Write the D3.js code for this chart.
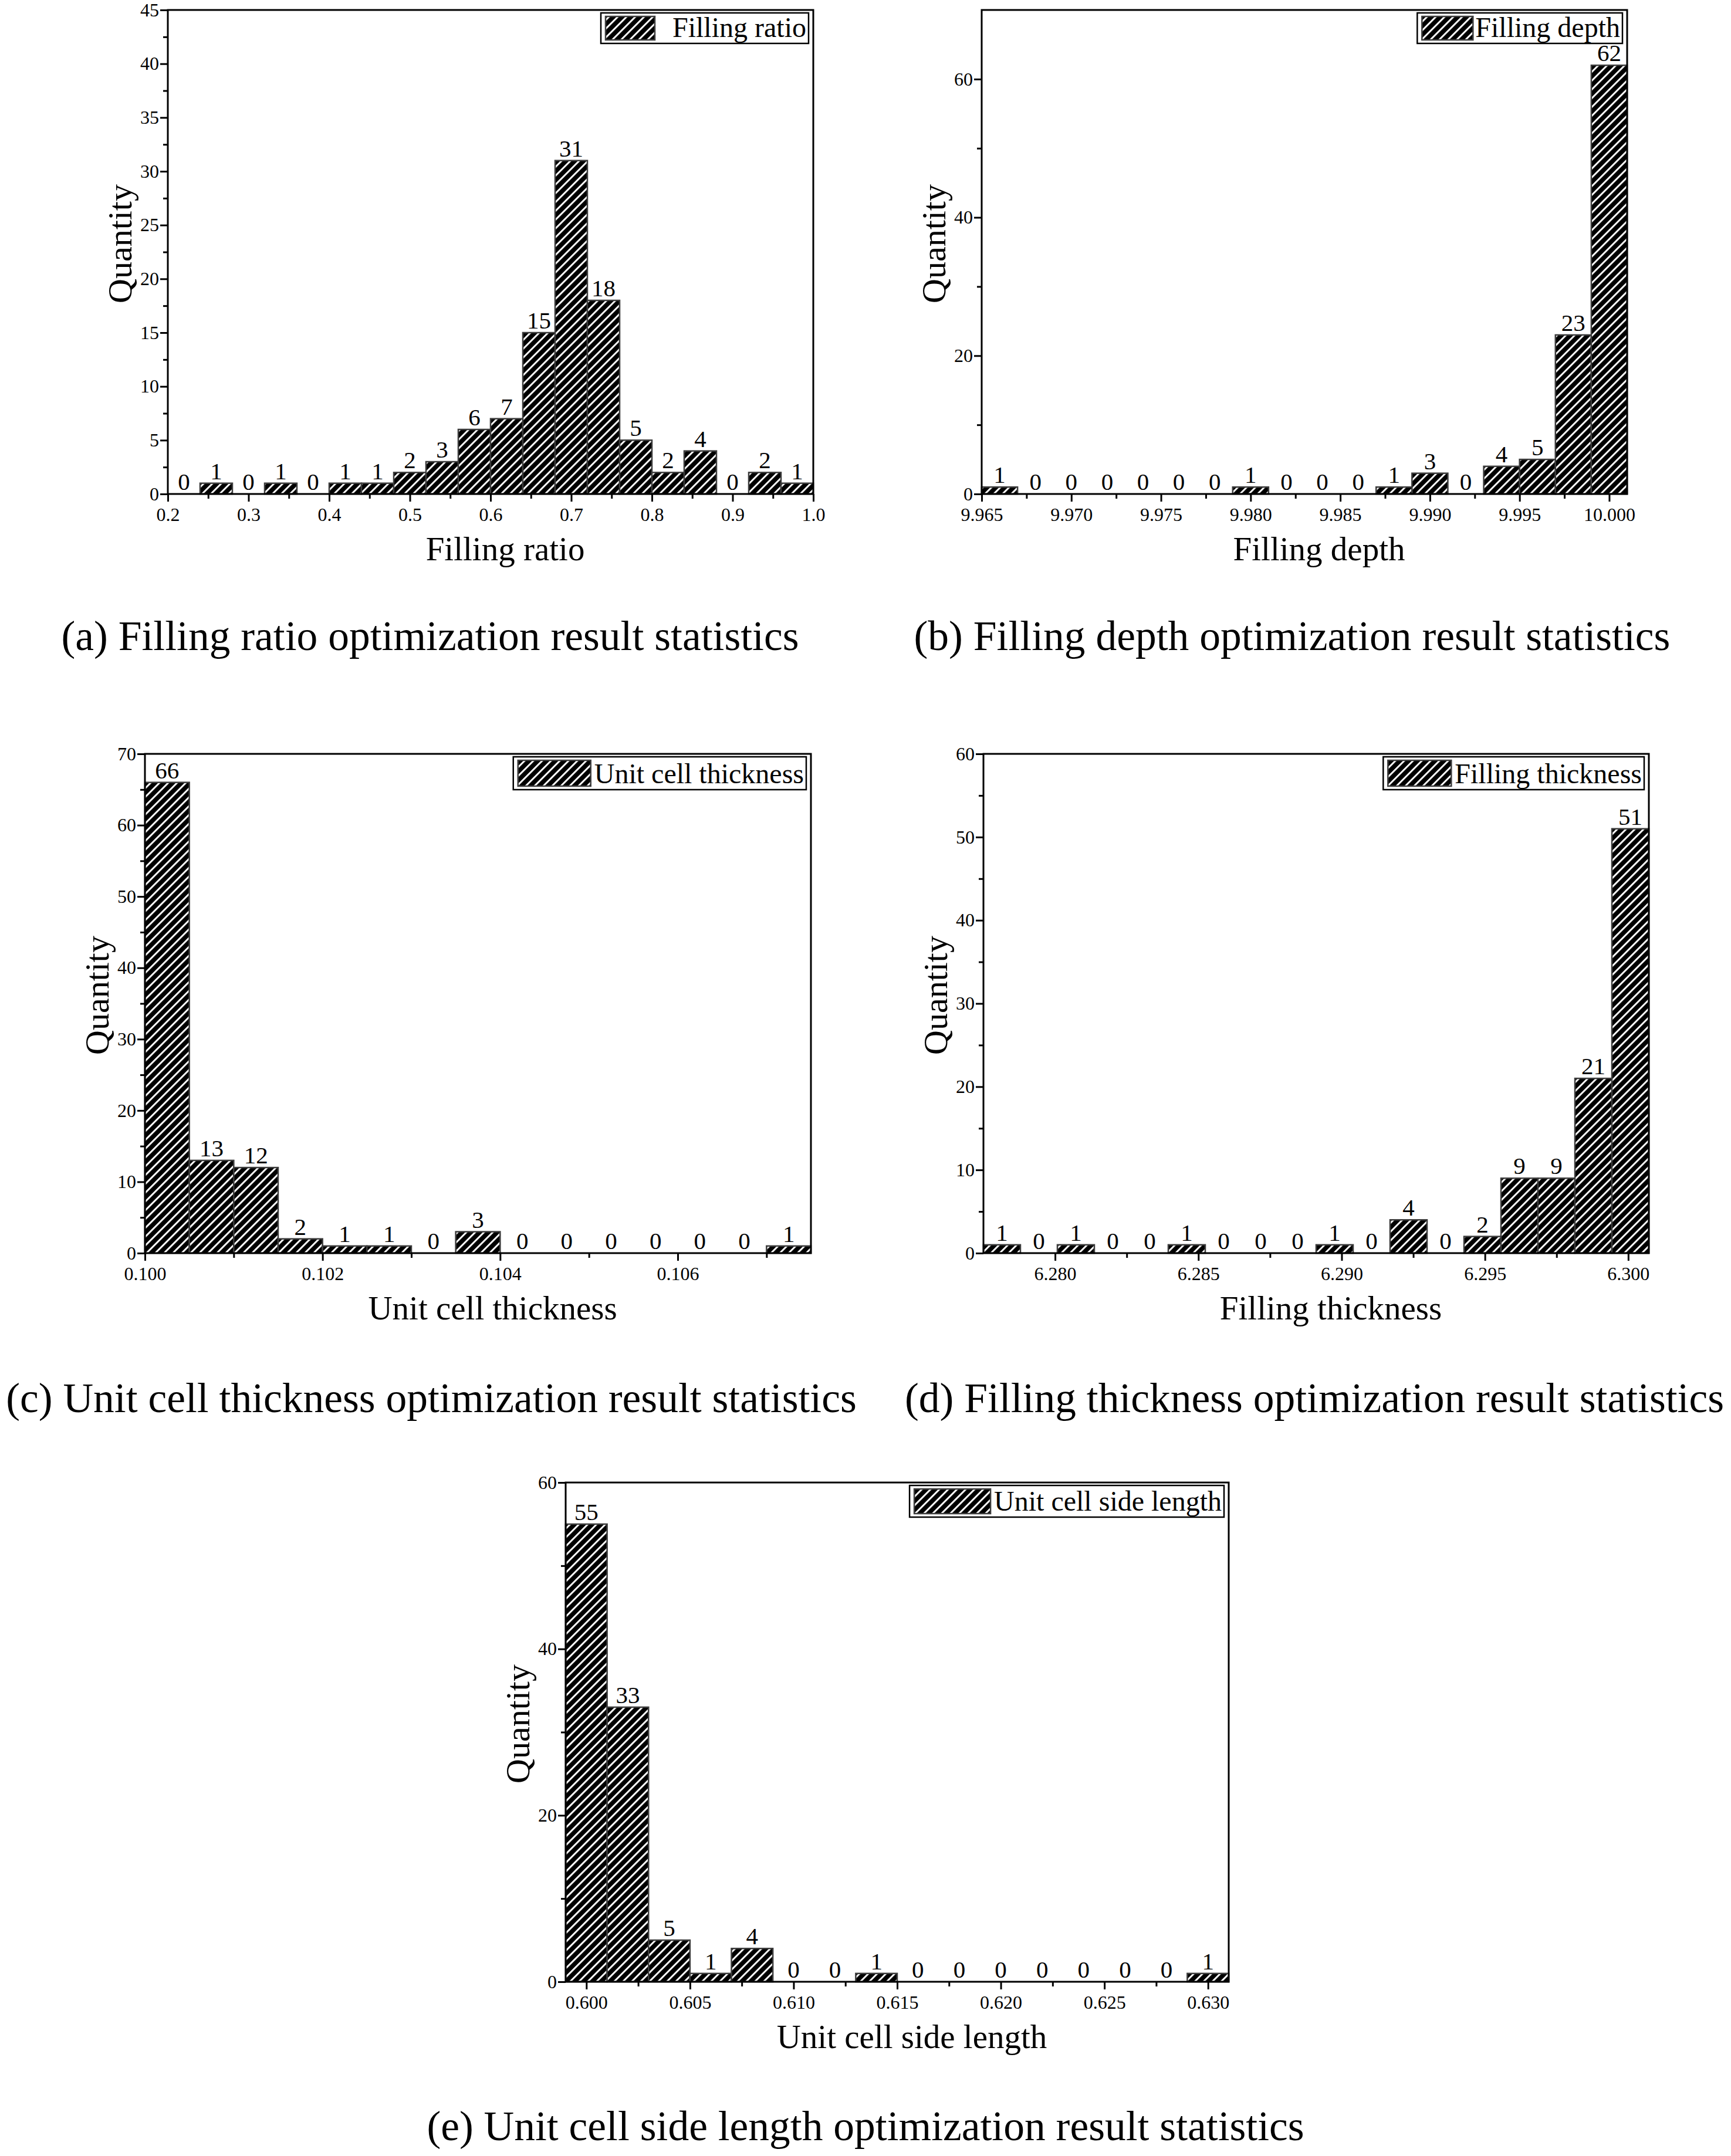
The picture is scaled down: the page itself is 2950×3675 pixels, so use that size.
<!DOCTYPE html>
<html lang="en">
<head>
<meta charset="UTF-8">
<title>Optimization result statistics</title>
<script src="https://d3js.org/d3.v7.min.js"></script>
<style>
  body { margin: 0; background: #fff; }
  text { font-family: "Liberation Serif", "Times New Roman", serif; fill: #000; }
</style>
</head>
<body>
<div id="chart"></div>
<script>
// ---- (a) filling ratio ----
const ratioBins = [0.20, 0.24, 0.28, 0.32, 0.36, 0.40, 0.44, 0.48, 0.52, 0.56,
                   0.60, 0.64, 0.68, 0.72, 0.76, 0.80, 0.84, 0.88, 0.92, 0.96];
const ratioCounts = [0, 1, 0, 1, 0, 1, 1, 2, 3, 6, 7, 15, 31, 18, 5, 2, 4, 0, 2, 1];
const ratioBinWidth = 0.04;
const ratioXTicks = [0.2, 0.3, 0.4, 0.5, 0.6, 0.7, 0.8, 0.9, 1.0];
const ratioXMinor = [0.25, 0.35, 0.45, 0.55, 0.65, 0.75, 0.85, 0.95];
const ratioYTicks = [0, 5, 10, 15, 20, 25, 30, 35, 40, 45];
const ratioYMinor = [2.5, 7.5, 12.5, 17.5, 22.5, 27.5, 32.5, 37.5, 42.5];

// ---- (b) filling depth ----
const depthBins = [9.965, 9.967, 9.969, 9.971, 9.973, 9.975, 9.977, 9.979, 9.981,
                   9.983, 9.985, 9.987, 9.989, 9.991, 9.993, 9.995, 9.997, 9.999];
const depthCounts = [1, 0, 0, 0, 0, 0, 0, 1, 0, 0, 0, 1, 3, 0, 4, 5, 23, 62];
const depthBinWidth = 0.002;
const depthXTicks = [9.965, 9.970, 9.975, 9.980, 9.985, 9.990, 9.995, 10.000];
const depthXMinor = [9.9675, 9.9725, 9.9775, 9.9825, 9.9875, 9.9925, 9.9975];
const depthYTicks = [0, 20, 40, 60];
const depthYMinor = [10, 30, 50];

// ---- (c) unit cell thickness ----
const cellThickBins = [0.1000, 0.1005, 0.1010, 0.1015, 0.1020, 0.1025, 0.1030, 0.1035,
                       0.1040, 0.1045, 0.1050, 0.1055, 0.1060, 0.1065, 0.1070];
const cellThickCounts = [66, 13, 12, 2, 1, 1, 0, 3, 0, 0, 0, 0, 0, 0, 1];
const cellThickBinWidth = 0.0005;
const cellThickXTicks = [0.100, 0.102, 0.104, 0.106];
const cellThickXMinor = [0.101, 0.103, 0.105, 0.107];
const cellThickYTicks = [0, 10, 20, 30, 40, 50, 60, 70];
const cellThickYMinor = [5, 15, 25, 35, 45, 55, 65];

// ---- (d) filling thickness ----
const fillThickBins = [6.27750, 6.27879, 6.28008, 6.28137, 6.28266, 6.28395, 6.28524, 6.28653, 6.28782,
                       6.28911, 6.29040, 6.29169, 6.29298, 6.29427, 6.29556, 6.29685, 6.29814, 6.29943];
const fillThickCounts = [1, 0, 1, 0, 0, 1, 0, 0, 0, 1, 0, 4, 0, 2, 9, 9, 21, 51];
const fillThickBinWidth = 0.00129;
const fillThickXTicks = [6.280, 6.285, 6.290, 6.295, 6.300];
const fillThickXMinor = [6.2825, 6.2875, 6.2925, 6.2975];
const fillThickYTicks = [0, 10, 20, 30, 40, 50, 60];
const fillThickYMinor = [5, 15, 25, 35, 45, 55];

// ---- (e) unit cell side length ----
const sideBins = [0.599, 0.601, 0.603, 0.605, 0.607, 0.609, 0.611, 0.613,
                  0.615, 0.617, 0.619, 0.621, 0.623, 0.625, 0.627, 0.629];
const sideCounts = [55, 33, 5, 1, 4, 0, 0, 1, 0, 0, 0, 0, 0, 0, 0, 1];
const sideBinWidth = 0.002;
const sideXTicks = [0.600, 0.605, 0.610, 0.615, 0.620, 0.625, 0.630];
const sideXMinor = [0.6025, 0.6075, 0.6125, 0.6175, 0.6225, 0.6275];
const sideYTicks = [0, 20, 40, 60];
const sideYMinor = [10, 30, 50];

const panels = [
  { name: "Filling ratio", caption: "(a) Filling ratio optimization result statistics",
    bins: ratioBins, counts: ratioCounts, binWidth: ratioBinWidth,
    xDomain: [0.2, 1.0], yDomain: [0, 45], xFormat: ".1f",
    xTicks: ratioXTicks, xMinor: ratioXMinor, yTicks: ratioYTicks, yMinor: ratioYMinor,
    box: [286, 17, 1386, 842], swatch: 84, gap: 30, legendH: 52, captionX: 733, captionY: 1108 },
  { name: "Filling depth", caption: "(b) Filling depth optimization result statistics",
    bins: depthBins, counts: depthCounts, binWidth: depthBinWidth,
    xDomain: [9.965, 10.001], yDomain: [0, 70], xFormat: ".3f",
    xTicks: depthXTicks, xMinor: depthXMinor, yTicks: depthYTicks, yMinor: depthYMinor,
    box: [1673, 17, 2773, 842], swatch: 87, gap: 4, legendH: 52, captionX: 2202, captionY: 1108 },
  { name: "Unit cell thickness", caption: "(c) Unit cell thickness optimization result statistics",
    bins: cellThickBins, counts: cellThickCounts, binWidth: cellThickBinWidth,
    xDomain: [0.100, 0.1075], yDomain: [0, 70], xFormat: ".3f",
    xTicks: cellThickXTicks, xMinor: cellThickXMinor, yTicks: cellThickYTicks, yMinor: cellThickYMinor,
    box: [247, 1285, 1382, 2136], swatch: 124, gap: 6, legendH: 56, captionX: 735, captionY: 2407 },
  { name: "Filling thickness", caption: "(d) Filling thickness optimization result statistics",
    bins: fillThickBins, counts: fillThickCounts, binWidth: fillThickBinWidth,
    xDomain: [6.2775, 6.30072], yDomain: [0, 60], xFormat: ".3f",
    xTicks: fillThickXTicks, xMinor: fillThickXMinor, yTicks: fillThickYTicks, yMinor: fillThickYMinor,
    box: [1676, 1285, 2810, 2136], swatch: 108, gap: 6, legendH: 56, captionX: 2240, captionY: 2407 },
  { name: "Unit cell side length", caption: "(e) Unit cell side length optimization result statistics",
    bins: sideBins, counts: sideCounts, binWidth: sideBinWidth,
    xDomain: [0.599, 0.631], yDomain: [0, 60], xFormat: ".3f",
    xTicks: sideXTicks, xMinor: sideXMinor, yTicks: sideYTicks, yMinor: sideYMinor,
    box: [964, 2527, 2094, 3378], swatch: 130, gap: 6, legendH: 54, captionX: 1475, captionY: 3648 }
];

const svg = d3.select("#chart").append("svg")
  .attr("width", 2950)
  .attr("height", 3675);

// hatch fill: black with thin white "/" stripes
const pattern = svg.append("defs").append("pattern")
  .attr("id", "hatch")
  .attr("patternUnits", "userSpaceOnUse")
  .attr("width", 10.6)
  .attr("height", 10.6)
  .attr("patternTransform", "rotate(45)");
pattern.append("rect").attr("width", 10.6).attr("height", 10.6).attr("fill", "#000");
pattern.append("rect").attr("width", 3).attr("height", 10.6).attr("fill", "#fff");

function styleAxis(g, fontSize) {
  g.select(".domain").remove();
  g.selectAll(".tick line").attr("stroke", "#000").attr("stroke-width", 3);
  g.selectAll(".tick text")
    .attr("font-size", fontSize)
    .attr("fill", "#000")
    .style("font-family", "'Liberation Serif', serif");
}

function drawPanel(p) {
  const [left, top, right, bottom] = p.box;
  const x = d3.scaleLinear().domain(p.xDomain).range([left, right]);
  const y = d3.scaleLinear().domain(p.yDomain).range([bottom, top]);
  const g = svg.append("g");

  const data = p.bins.map((b, i) => ({ x0: b, x1: b + p.binWidth, n: p.counts[i] }));

  // bars
  g.selectAll("rect.bar")
    .data(data.filter(d => d.n > 0))
    .join("rect")
    .attr("class", "bar")
    .attr("x", d => x(d.x0))
    .attr("y", d => y(d.n))
    .attr("width", d => x(d.x1) - x(d.x0))
    .attr("height", d => y(0) - y(d.n))
    .attr("fill", "url(#hatch)")
    .attr("stroke", "#3c3c3c")
    .attr("stroke-width", 2.5);

  // counts above bars
  g.selectAll("text.count")
    .data(data)
    .join("text")
    .attr("class", "count")
    .attr("x", d => (x(d.x0) + x(d.x1)) / 2)
    .attr("y", d => y(d.n) - 7)
    .attr("text-anchor", "middle")
    .attr("font-size", 41)
    .text(d => d.n);

  // x axis
  g.append("g")
    .attr("transform", `translate(0,${bottom})`)
    .call(d3.axisBottom(x).tickValues(p.xTicks).tickFormat(d3.format(p.xFormat)).tickSize(13).tickPadding(10))
    .call(a => styleAxis(a, 32));
  g.append("g")
    .attr("transform", `translate(0,${bottom})`)
    .call(d3.axisBottom(x).tickValues(p.xMinor).tickFormat("").tickSize(8))
    .call(a => styleAxis(a, 32));

  // y axis
  g.append("g")
    .attr("transform", `translate(${left},0)`)
    .call(d3.axisLeft(y).tickValues(p.yTicks).tickFormat(d3.format("d")).tickSize(13).tickPadding(2))
    .call(a => styleAxis(a, 32));
  g.append("g")
    .attr("transform", `translate(${left},0)`)
    .call(d3.axisLeft(y).tickValues(p.yMinor).tickFormat("").tickSize(8))
    .call(a => styleAxis(a, 32));

  // frame
  g.append("rect")
    .attr("x", left)
    .attr("y", top)
    .attr("width", right - left)
    .attr("height", bottom - top)
    .attr("fill", "none")
    .attr("stroke", "#000")
    .attr("stroke-width", 3);

  // legend
  const lg = g.append("g");
  const lbox = lg.append("rect")
    .attr("fill", "#fff")
    .attr("stroke", "#000")
    .attr("stroke-width", 2.5);
  const sw = lg.append("rect")
    .attr("fill", "url(#hatch)")
    .attr("stroke", "#3c3c3c")
    .attr("stroke-width", 2.5);
  const lt = lg.append("text")
    .attr("font-size", 48)
    .text(p.name);
  const tw = lt.node().getComputedTextLength();
  const boxW = 8 + p.swatch + p.gap + tw + 4;
  const boxX = right - 8 - boxW;
  const boxY = top + 5;
  lbox.attr("x", boxX).attr("y", boxY).attr("width", boxW).attr("height", p.legendH);
  sw.attr("x", boxX + 8).attr("y", boxY + 6).attr("width", p.swatch).attr("height", p.legendH - 12);
  lt.attr("x", boxX + 8 + p.swatch + p.gap).attr("y", boxY + p.legendH - 11);

  // axis titles
  g.append("text")
    .attr("x", (left + right) / 2 + 25)
    .attr("y", bottom + 113)
    .attr("text-anchor", "middle")
    .attr("font-size", 57)
    .text(p.name);

  const qy = (top + bottom) / 2 - 14;
  g.append("text")
    .attr("transform", `translate(${left - 82},${qy}) rotate(-90)`)
    .attr("dy", "0.35em")
    .attr("text-anchor", "middle")
    .attr("font-size", 58)
    .text("Quantity");

  // caption
  g.append("text")
    .attr("x", p.captionX)
    .attr("y", p.captionY)
    .attr("text-anchor", "middle")
    .attr("font-size", 71.5)
    .text(p.caption);
}

panels.forEach(drawPanel);
</script>
</body>
</html>
